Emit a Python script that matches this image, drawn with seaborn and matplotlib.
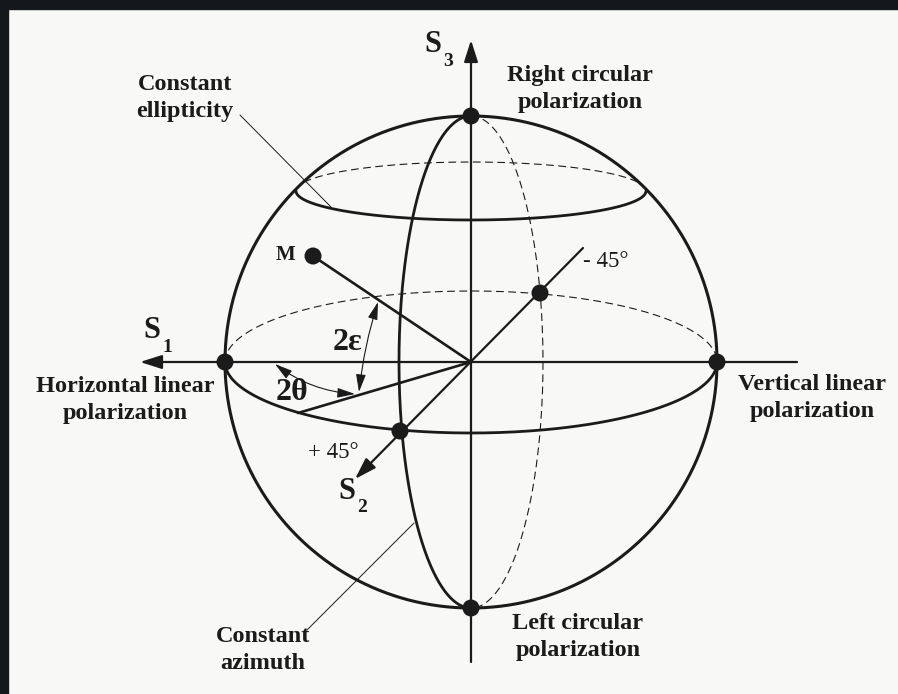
import numpy as np
import pandas as pd
import matplotlib.pyplot as plt
import seaborn as sns

# Poincare sphere geometry (image pixel units, y grows downward)
sphere_center = [471, 362]
sphere_radius = 246
equator_minor = 71
latitude_center_y = 191
latitude_major = 175
latitude_minor = 29
meridian_minor = 72

# marked states
point_names = ['Right circular', 'Left circular', 'Horizontal', 'Vertical', '+45', '-45', 'M']
point_x = [471, 471, 225, 717, 400, 540, 313]
point_y = [116, 608, 362, 362, 431, 293, 256]

# axes (start -> arrow tip)
axis_names = ['S1', 'S2', 'S3']
axis_start = [(797, 362), (583, 248), (471, 662)]
axis_tip = [(140, 362), (355, 479), (471, 40)]

# projection of M on equator
equator_point = [298, 413]

# labels
bold_labels = ['Constant\nellipticity', 'Right circular\npolarization', 'Horizontal linear\npolarization',
               'Vertical linear\npolarization', 'Left circular\npolarization', 'Constant\nazimuth']
bold_label_x = [185, 580, 125, 812, 578, 263]
bold_label_y = [98, 89, 400, 398, 637, 650]

sns.set_theme(style='white')
plt.rcParams['font.family'] = ['Liberation Serif', 'DejaVu Serif']

ink = '#1b1b1b'
fig = plt.figure(figsize=(8.98, 6.94), dpi=100)
fig.patch.set_facecolor('#f8f8f6')
ax = fig.add_axes([0, 0, 1, 1])
ax.set_facecolor('#f8f8f6')
ax.set_xlim(0, 898)
ax.set_ylim(694, 0)
ax.axis('off')

# dark scan frame on top and left
ax.add_patch(plt.Rectangle((0, 0), 898, 9, color='#15181a', zorder=0))
ax.add_patch(plt.Rectangle((0, 0), 8, 694, color='#15181a', zorder=0))

cx, cy = sphere_center
R = sphere_radius


def curve(a, b, x0, y0, t0, t1, n=200):
    t = np.linspace(t0, t1, n)
    return pd.DataFrame({'x': x0 + a * np.cos(t), 'y': y0 + b * np.sin(t)})


def draw(df, lw, ls='-'):
    sns.lineplot(data=df, x='x', y='y', sort=False, estimator=None, ax=ax,
                 color=ink, lw=lw, linestyle=ls, legend=False)


dash = (0, (7, 4))
# outline
draw(curve(R, R, cx, cy, 0, 2 * np.pi, 400), 2.2)
# equator
draw(curve(R, equator_minor, cx, cy, 0, np.pi), 2.0)
draw(curve(R, equator_minor, cx, cy, np.pi, 2 * np.pi), 0.8, dash)
# constant ellipticity circle
draw(curve(latitude_major, latitude_minor, cx, latitude_center_y, 0, np.pi), 2.0)
draw(curve(latitude_major, latitude_minor, cx, latitude_center_y, np.pi, 2 * np.pi), 0.8, dash)
# constant azimuth meridian
draw(curve(meridian_minor, R, cx, cy, np.pi / 2, 1.5 * np.pi), 2.0)
draw(curve(meridian_minor, R, cx, cy, -np.pi / 2, np.pi / 2), 0.8, dash)

# coordinate axes with arrows
for (x0, y0), (x1, y1) in zip(axis_start, axis_tip):
    ax.annotate('', xy=(x1, y1), xytext=(x0, y0),
                arrowprops=dict(arrowstyle='-|>,head_length=1.1,head_width=0.35',
                                color=ink, lw=1.6, shrinkA=0, shrinkB=0))

# radius to M and to its equatorial projection
draw(pd.DataFrame({'x': [cx, point_x[6]], 'y': [cy, point_y[6]]}), 1.9)
draw(pd.DataFrame({'x': [cx, equator_point[0]], 'y': [cy, equator_point[1]]}), 1.9)

# state points
pts = pd.DataFrame({'x': point_x, 'y': point_y, 'name': point_names})
sns.scatterplot(data=pts, x='x', y='y', ax=ax, color=ink, s=150, edgecolor='none',
                legend=False, zorder=5)

# angle arcs
ax.annotate('', xy=(275, 364), xytext=(355, 394),
            arrowprops=dict(arrowstyle='<|-|>,head_length=0.9,head_width=0.25', color=ink,
                            lw=0.8, shrinkA=0, shrinkB=0, connectionstyle='arc3,rad=-0.15'))
ax.annotate('', xy=(378, 302), xytext=(359, 392),
            arrowprops=dict(arrowstyle='<|-|>,head_length=0.9,head_width=0.25', color=ink,
                            lw=0.8, shrinkA=0, shrinkB=0, connectionstyle='arc3,rad=-0.05'))

# leader lines
draw(pd.DataFrame({'x': [240, 331], 'y': [115, 207]}), 0.7)
draw(pd.DataFrame({'x': [307, 414], 'y': [630, 523]}), 0.7)

# text
for s, x, y in zip(bold_labels, bold_label_x, bold_label_y):
    ax.text(x, y, s, ha='center', va='center', fontsize=17.5, fontweight='bold',
            color=ink, linespacing=1.42)

ax.text(285, 255, 'M', ha='center', va='center', fontsize=15, fontweight='bold', color=ink)
ax.text(292, 392, '2θ', ha='center', va='center', fontsize=23, fontweight='bold', color=ink)
ax.text(347, 342, '2ε', ha='center', va='center', fontsize=23, fontweight='bold', color=ink)
ax.text(583, 261, '- 45°', ha='left', va='center', fontsize=16.5, color=ink)
ax.text(333, 452, '+ 45°', ha='center', va='center', fontsize=16.5, color=ink)

# axis names with subscripts
axis_label_pos = [(152, 330), (347, 491), (433, 44)]
for name, (x, y) in zip(axis_names, axis_label_pos):
    ax.text(x, y, name[0], ha='center', va='center', fontsize=22, fontweight='bold', color=ink)
    ax.text(x + 15, y + 17, name[1], ha='center', va='center', fontsize=14,
            fontweight='bold', color=ink)

fig.savefig('out.png', dpi=100, facecolor=fig.get_facecolor())
